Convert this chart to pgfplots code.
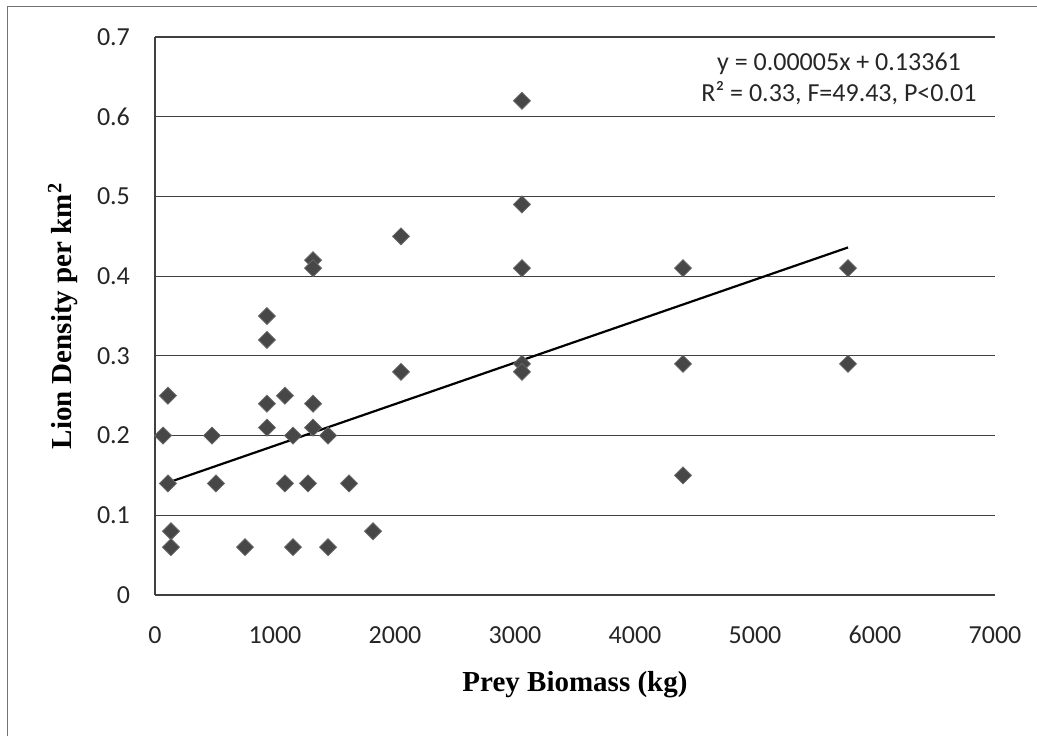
\documentclass[border=0pt]{standalone}
\usepackage{fontspec}
\setmainfont{Liberation Serif}
\newfontfamily\calibri{Carlito}
\usepackage{pgfplots}
\usepackage{pgfplotstable}
\pgfplotsset{compat=1.18}

% prey biomass (kg) vs lion density per km2
\pgfplotstableread{
x y
67 0.20
108 0.25
108 0.14
133 0.08
133 0.06
475 0.20
508 0.14
750 0.06
933 0.35
933 0.32
933 0.24
933 0.21
1083 0.25
1083 0.14
1150 0.20
1150 0.06
1275 0.14
1317 0.42
1317 0.41
1317 0.24
1317 0.21
1442 0.20
1442 0.06
1617 0.14
1817 0.08
2050 0.45
2050 0.28
3058 0.62
3058 0.49
3058 0.41
3058 0.29
3058 0.28
4400 0.41
4400 0.29
4400 0.15
5775 0.41
5775 0.29
}\lions

\begin{document}
\begin{tikzpicture}
\useasboundingbox (-77.5pt,-70.5pt) rectangle (441pt,297.5pt);
\draw[black!55, line width=0.5pt] (-73.5pt,-70.5pt) -- (-73.5pt,294.5pt) -- (441pt,294.5pt);
\begin{axis}[
  at={(0,0)}, anchor=south west,
  scale only axis, width=420pt, height=279pt,
  xmin=0, xmax=7000, ymin=0, ymax=0.7,
  xtick={0,1000,2000,3000,4000,5000,6000,7000},
  ytick={0,0.1,0.2,0.3,0.4,0.5,0.6,0.7},
  axis line style={draw=none},
  major tick length=0pt,
  ymajorgrids, major grid style={black!75, line width=0.6pt},
  /pgf/number format/assume math mode=true,
  x tick label style={/pgf/number format/1000 sep={}, anchor=base, yshift=-24pt},
  y tick label style={/pgf/number format/.cd, fixed, precision=1, /tikz/.cd, xshift=-9pt},
  tick label style={font=\calibri\fontsize{13}{15}\selectfont, text=black!85},
  xlabel={\textbf{Prey Biomass (kg)}},
  ylabel={\textbf{Lion Density per km\textsuperscript{2}}},
  label style={font=\fontsize{14.5}{17}\selectfont},
  xlabel style={at={(axis description cs:0.5,0)}, anchor=center, yshift=-45pt},
  ylabel style={at={(axis description cs:0,0.5)}, anchor=center, yshift=46pt},
  clip=false,
]
\draw[black!75, line width=0.6pt] (axis cs:0,0) -- (axis cs:0,0.7);
\addplot[only marks, mark=square*, mark size=3pt,
  mark options={rotate=45, fill=black!72, draw=black!60, line width=0.4pt}] table {\lions};
\addplot[black, line width=1.1pt] coordinates {(108,0.141) (5775,0.436)};
\node[font=\calibri\fontsize{13}{15.5}\selectfont, align=center, text=black!85]
  at (axis cs:5700,0.648) {y = 0.00005x + 0.13361\\R² = 0.33, F=49.43, P<0.01};
\end{axis}
\end{tikzpicture}
\end{document}
